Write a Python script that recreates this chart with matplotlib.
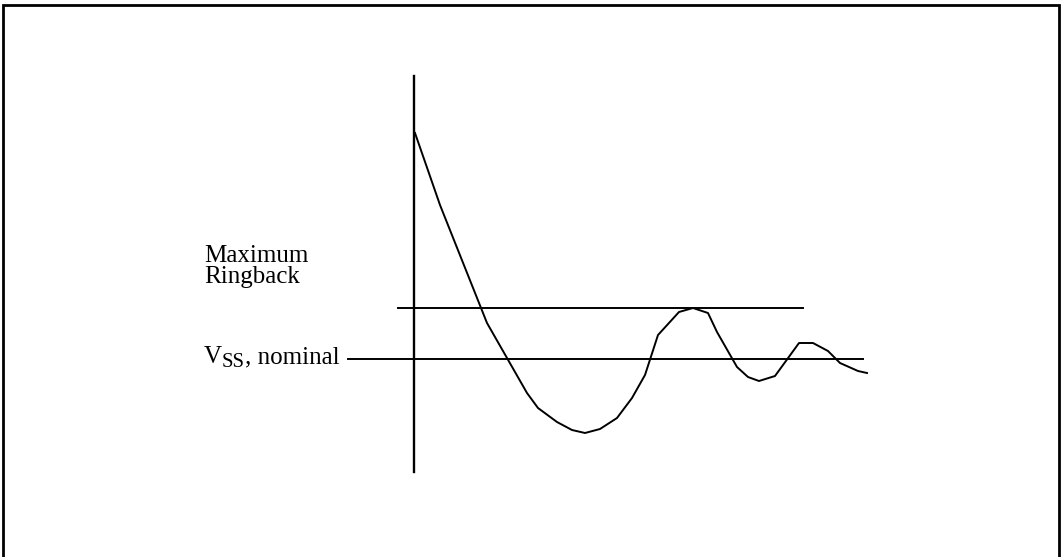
import matplotlib
matplotlib.use("Agg")
import matplotlib.pyplot as plt

plt.rcParams['font.family'] = ['Liberation Serif', 'DejaVu Serif']

# ringing waveform: time from the vertical axis, voltage relative to Vss nominal
wave_t = [1, 26, 73, 93, 113, 124, 143, 158, 171, 186, 203, 218, 231, 244,
          265, 279, 294, 303, 323, 334, 345, 361, 385, 399, 414, 426, 444, 453]
wave_v = [226, 154, 36, 1, -34, -49, -63, -71, -74, -70, -59, -39, -16, 24,
          47, 51, 46, 27, -8, -18, -22, -17, 16, 16, 8, -4, -12, -14]

vss_level = 0
ringback_level = 51
vss_span = (-66, 449)
ringback_span = (-16, 389)
axis_span = (-113, 283)

fig = plt.figure(figsize=(10.64, 5.57), dpi=100)
ax = fig.add_axes([0, 0, 1, 1])
ax.set_xlim(-414, 650)
ax.set_ylim(-198, 359)
ax.axis('off')

# outer frame (bottom edge runs off the picture)
ax.plot([-411, -411, 645, 645], [-220, 354, 354, -220], color='black', lw=2,
        solid_joinstyle='miter')

ax.plot([0, 0], axis_span, color='black', lw=1.7)
ax.plot(ringback_span, [ringback_level] * 2, color='black', lw=1.4)
ax.plot(vss_span, [vss_level] * 2, color='black', lw=1.4)
ax.plot(wave_t, wave_v, color='black', lw=1.4)

fs = 18
ax.text(-210, 97, "Maximum", fontsize=fs, va='baseline', ha='left')
ax.text(-210, 76, "Ringback", fontsize=fs, va='baseline', ha='left')

# V_SS label built from pieces (1 data unit == 1 pixel here)
fig.canvas.draw()
renderer = fig.canvas.get_renderer()
x = -210
t = ax.text(x, -4, "V", fontsize=fs, va='baseline', ha='left')
x += t.get_window_extent(renderer).width
t = ax.text(x, -8, "SS", fontsize=15, va='baseline', ha='left')
x += t.get_window_extent(renderer).width
ax.text(x, -4, ", nominal", fontsize=fs, va='baseline', ha='left')

fig.savefig("out.png", dpi=100)
